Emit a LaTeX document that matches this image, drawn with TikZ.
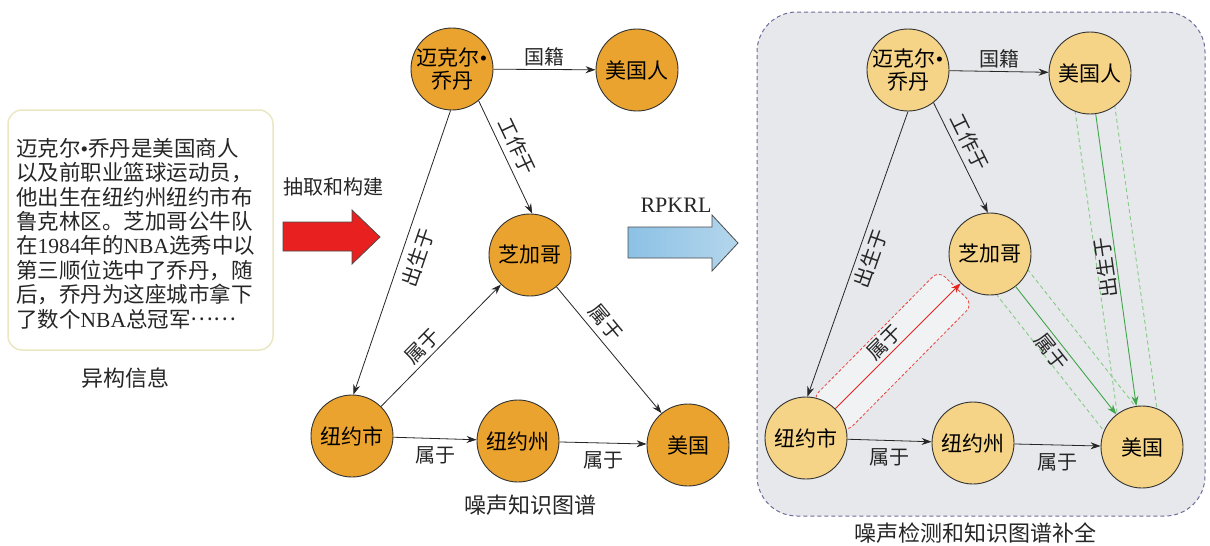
\documentclass[tikz,border=0pt]{standalone}
\usepackage{fontspec}
\setmainfont{Liberation Serif}
\newfontfamily\cjk{Noto Sans CJK SC}
\usetikzlibrary{arrows.meta,calc,backgrounds}
\definecolor{entO}{HTML}{EAA32E}
\definecolor{entL}{HTML}{F5D487}
\definecolor{panelC}{HTML}{E7E8EB}
\definecolor{panelB}{HTML}{6F6C9C}
\definecolor{redE}{HTML}{E5251F}
\definecolor{greenE}{HTML}{3FA64A}
\definecolor{greenD}{HTML}{86CC86}
\definecolor{boxB}{HTML}{ECE7C3}
\definecolor{arrRed}{HTML}{E8201F}
\definecolor{arrBlueA}{HTML}{8CC1E5}
\definecolor{arrBlueB}{HTML}{B4D6EC}
\newcommand{\mydot}{{\rmfamily •}}
\tikzset{
  ent/.style={circle, draw=black!80, line width=0.9pt, minimum size=82pt, inner sep=0pt,
    align=center, font=\cjk\fontsize{21}{23}\selectfont},
  entM/.style={ent, fill=entO},
  entR/.style={ent, fill=entL},
  rel/.style={font=\cjk\fontsize{20}{22}\selectfont, inner sep=3pt, text=black!85},
  link/.style={draw=black!85, line width=0.8pt, -{Stealth[length=10pt,width=7pt]}},
  redlink/.style={draw=redE, line width=0.9pt, -{Stealth[length=10pt,width=7pt]}},
  greenlink/.style={draw=greenE, line width=0.9pt, -{Stealth[length=10pt,width=7pt]}},
  gdash/.style={draw=greenD, line width=0.9pt, dash pattern=on 4pt off 3pt},
  redbox/.style={draw=redE!85, line width=0.8pt, dash pattern=on 3pt off 2pt,
    rounded corners=9pt, fill=white, fill opacity=0.45, minimum width=180pt, minimum height=48pt},
  panel/.style={draw=panelB, line width=1pt, dash pattern=on 4pt off 3pt, fill=panelC,
    rounded corners=40pt, minimum width=448pt, minimum height=504pt},
  srcbox/.style={draw=boxB, line width=1.5pt, fill=white, rounded corners=14pt,
    minimum width=265pt, minimum height=240pt},
  srctext/.style={font=\cjk\fontsize{21.5}{24.4}\selectfont, align=left, inner sep=0pt, text=black!85},
  caption/.style={font=\cjk\fontsize{22}{24}\selectfont, text=black!85},
  bigarrow/.style={draw=black!70, line width=0.8pt, line join=miter}
}
\begin{document}
\begin{tikzpicture}[x=1pt,y=-1pt]
\useasboundingbox (0,0) rectangle (1210,546);
\begin{scope}[on background layer]
  \fill[white] (0,0) rectangle (1210,546);
\end{scope}

% ---------- source text ----------
\node[srcbox] (box) at (140.5,230) {};
\node[srctext, anchor=north west] (src) at (16,138) {迈克尔\mydot 乔丹是美国商人\\以及前职业篮球运动员，\\他出生在纽约州纽约市布\\鲁克林区。芝加哥公牛队\\在{\rmfamily 1984}年的{\rmfamily NBA}选秀中以\\第三顺位选中了乔丹，随\\后，乔丹为这座城市拿下\\了数个{\rmfamily NBA}总冠军\raisebox{0.32em}{……}};
\node[caption] (capA) at (125,378) {异构信息};

% ---------- red arrow ----------
\node[rel] (extract) at (333,187) {抽取和构建};
\draw[bigarrow, fill=arrRed] (283,222) -- (352,222) -- (352,210) -- (380,237) -- (352,264) -- (352,251) -- (283,251) -- cycle;

% ---------- middle graph ----------
\node[entM] (mj) at (452,69) {迈克尔\mydot\\乔丹};
\node[entM] (mA) at (637,70) {美国人};
\node[entM] (mc) at (530,255) {芝加哥};
\node[entM] (ny) at (352,436) {纽约市};
\node[entM] (ns) at (518,441) {纽约州};
\node[entM] (us) at (688,445) {美国};

\draw[link] (mj) -- node[rel, above, midway] (lA) {国籍} (mA);
\draw[link] (mj.-50) -- node[rel, above, sloped, pos=0.46, inner sep=6pt] (lB) {工作于} (mc.87);
\draw[link] (mj.-92) -- node[rel, below, sloped, pos=0.5, inner sep=7pt] (lC) {出生于} (ny.88);
\draw[link] (ny) -- node[rel, above, sloped, pos=0.42, inner sep=4pt] (lD) {属于} (mc);
\draw[link] (mc) -- node[rel, above, sloped, pos=0.36, inner sep=6pt] (lE) {属于} (us);
\draw[link] (ny) -- node[rel, below, midway, inner sep=8pt] (lF) {属于} (ns);
\draw[link] (ns) -- node[rel, below, midway, inner sep=8pt] (lG) {属于} (us);
\node[caption] (capB) at (530,505) {噪声知识图谱};

% ---------- blue arrow ----------
\node[font=\fontsize{22}{24}\selectfont, text=black!85] (rpk) at (676,205) {RPKRL};
\draw[bigarrow, left color=arrBlueA, right color=arrBlueB] (628,227) -- (712,227) -- (712,215) -- (738,243) -- (712,271) -- (712,258) -- (628,258) -- cycle;

% ---------- right panel ----------
\begin{scope}[on background layer]
  \node[panel] (pan) at (981,264) {};
\end{scope}

\node[entR] (rmj) at (908,70) {迈克尔\mydot\\乔丹};
\node[entR] (rA) at (1090,73) {美国人};
\node[entR] (rmc) at (990,254) {芝加哥};
\node[entR] (rny) at (806,438) {纽约市};
\node[entR] (rns) at (973,443) {纽约州};
\node[entR] (rU) at (1142,447) {美国};

\begin{scope}[on background layer]
  \node[redbox, rotate=45.3] (rbox) at ($(rny)!0.47!(rmc)$) {};
  \draw[gdash] ($(rmc)!20pt!90:(rU)$) -- ($(rU)!20pt!-90:(rmc)$);
  \draw[gdash] ($(rmc)!20pt!-90:(rU)$) -- ($(rU)!20pt!90:(rmc)$);
  \draw[gdash] ($(rA)!20pt!90:(rU)$) -- ($(rU)!20pt!-90:(rA)$);
  \draw[gdash] ($(rA)!20pt!-90:(rU)$) -- ($(rU)!20pt!90:(rA)$);
\end{scope}

\draw[link] (rmj) -- node[rel, above, midway] (rlA) {国籍} (rA);
\draw[link] (rmj.-52) -- node[rel, above, sloped, pos=0.42, inner sep=5pt] (rlB) {工作于} (rmc.93);
\draw[link] (rmj.-90) -- node[rel, below, sloped, pos=0.5, inner sep=4pt] (rlC) {出生于} (rny.88);
\draw[redlink] (rny) -- node[rel, above, sloped, pos=0.46] (rlD) {属于} (rmc);
\draw[greenlink] (rmc) -- node[rel, below, sloped, pos=0.45] (rlE) {属于} (rU);
\draw[greenlink] (rA) -- node[rel, anchor=south, rotate=98, pos=0.52, inner sep=2pt] (rlF) {出生于} (rU);
\draw[link] (rny) -- node[rel, below, midway, inner sep=8pt] (rlG) {属于} (rns);
\draw[link] (rns) -- node[rel, below, midway, inner sep=8pt] (rlH) {属于} (rU);
\node[caption] (capC) at (975,533) {噪声检测和知识图谱补全};
\end{tikzpicture}
\end{document}
